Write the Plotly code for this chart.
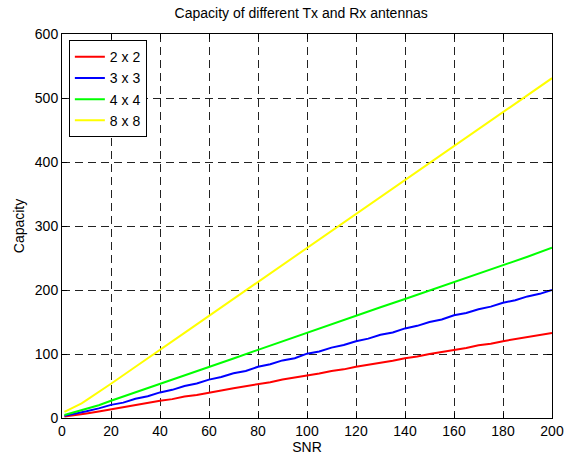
import plotly.graph_objects as go

# SNR sample points and capacity values
snr_a = [1, 2, 4, 6, 8, 10, 15, 20, 30, 40, 50, 60, 70, 80, 90, 100,
         110, 120, 130, 140, 150, 160, 170, 180, 190, 200]
cap_8x8 = [9.5, 11.5, 14.5, 19, 23, 28, 40.5, 53.5, 80, 106, 133, 159.5, 186, 213,
           239, 266, 292, 319, 345, 372, 398.5, 425, 451.5, 478, 505, 531]
cap_4x4 = [4.7, 5.8, 7.3, 9.5, 11.5, 14, 20, 27, 40, 53, 66.5, 80, 93, 106.5,
           120, 133, 146, 159.5, 173, 186, 199, 212.5, 226, 239, 252, 266]

snr_b = [1, 4, 8, 10, 15, 20, 25, 30, 35, 40, 45, 50, 55, 60, 65, 70, 75, 80, 85,
         90, 95, 100, 105, 110, 115, 120, 125, 130, 135, 140, 145, 150, 155, 160,
         165, 170, 175, 180, 185, 190, 195, 200]
cap_3x3 = [3.3, 5.5, 8.5, 10.5, 15, 20.5, 24, 30, 34, 40, 44, 50, 54, 60, 64, 70,
           73.5, 80, 84, 90, 93.5, 100.5, 104, 110, 114, 120, 124, 130, 133.5, 140,
           144, 150, 154, 160.5, 164, 170, 174, 180, 184, 190, 194, 200]
cap_2x2 = [2.2, 3.5, 5.8, 7, 10, 13.5, 16, 20, 23, 27, 29.5, 33.5, 36, 40, 43, 46.5,
           49.5, 53.5, 56, 60, 63, 66.5, 69.5, 73.5, 76, 80, 83, 86.5, 89.5, 93.5,
           96, 100, 103, 106.5, 109.5, 113.5, 116, 120, 123, 126.5, 129.5, 133]

x_ticks = [0, 20, 40, 60, 80, 100, 120, 140, 160, 180, 200]
y_ticks = [0, 100, 200, 300, 400, 500, 600]

FONT = "Liberation Sans, Arial"

fig = go.Figure()
series = [
    ("2 x 2", snr_b, cap_2x2, "#ff0000"),
    ("3 x 3", snr_b, cap_3x3, "#0000ff"),
    ("4 x 4", snr_a, cap_4x4, "#00ff00"),
    ("8 x 8", snr_a, cap_8x8, "#ffff00"),
]
for name, xs, ys, col in series:
    fig.add_trace(go.Scatter(x=xs, y=ys, mode="lines", name=name,
                             line=dict(color=col, width=2)))

axis_common = dict(
    showline=True, linecolor="black", linewidth=1, mirror="ticks",
    ticks="inside", ticklen=5, tickcolor="black",
    showgrid=True, gridcolor="#222222", gridwidth=1, griddash="8px,5px",
    zeroline=False,
    tickfont=dict(family=FONT, size=14, color="black"),
)

fig.update_layout(
    width=564, height=458,
    margin=dict(l=62, r=12, t=34, b=40, autoexpand=False),
    paper_bgcolor="white", plot_bgcolor="white",
    title=dict(text="Capacity of different Tx and Rx antennas",
               x=0.534, xanchor="center", y=0.972, yanchor="middle",
               font=dict(family=FONT, size=14, color="black")),
    xaxis=dict(range=[0, 200], tickvals=x_ticks,
               title=dict(text="SNR", standoff=0,
                          font=dict(family=FONT, size=14, color="black")),
               **axis_common),
    yaxis=dict(range=[0, 600], tickvals=y_ticks,
               title=dict(text="Capacity", standoff=6,
                          font=dict(family=FONT, size=14, color="black")),
               **axis_common),
    legend=dict(x=0.014, y=0.984, xanchor="left", yanchor="top",
                bgcolor="white", bordercolor="black", borderwidth=1,
                font=dict(family=FONT, size=14, color="black"),
                tracegroupgap=0, itemwidth=30),
    showlegend=True,
)

fig.write_html("out.html")
